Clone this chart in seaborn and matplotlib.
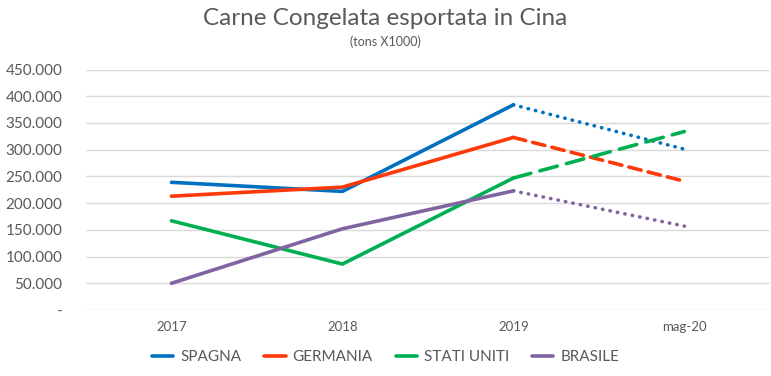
import pandas as pd
import seaborn as sns
import matplotlib.pyplot as plt
from matplotlib.ticker import FuncFormatter
from matplotlib.lines import Line2D

# Data (tons x1000)
periods = ["2017", "2018", "2019", "mag-20"]
countries = ["SPAGNA", "GERMANIA", "STATI UNITI", "BRASILE"]
spagna = [239000, 222000, 384000, 301000]
germania = [213000, 230000, 323000, 241000]
stati_uniti = [167000, 86000, 247000, 334000]
brasile = [50000, 152000, 223000, 157000]

colors = ["#0070C0", "#FF3A0A", "#00B050", "#8064A2"]
# style of the last (estimated) segment
last_styles = [(0, (0.1, 2.0)), (0, (3.5, 2.0)), (0, (5.0, 2.6)), (0, (0.1, 2.0))]

series = {"SPAGNA": spagna, "GERMANIA": germania,
          "STATI UNITI": stati_uniti, "BRASILE": brasile}

rows = []
for c in countries:
    for p, v in zip(periods, series[c]):
        rows.append({"Periodo": p, "Paese": c, "Valore": v})
df = pd.DataFrame(rows)

sns.set_theme(style="white")
plt.rcParams["font.family"] = ["Lato", "DejaVu Sans"]
grey = "#595959"

fig = plt.figure(figsize=(7.71, 3.76), dpi=100)
ax = fig.add_axes([0.1115, 0.1755, 0.887, 0.6395])

# solid part 2017-2019
solid = df[df["Periodo"] != "mag-20"]
sns.lineplot(data=solid, x="Periodo", y="Valore", hue="Paese", hue_order=countries,
             palette=colors, linewidth=2.6, ax=ax, legend=False, sort=False)

# last segment 2019 -> mag-20 with different dash styles
last = df[df["Periodo"].isin(["2019", "mag-20"])]
for c, col, ls in zip(countries, colors, last_styles):
    sub = last[last["Paese"] == c]
    sns.lineplot(data=sub, x="Periodo", y="Valore", color=col, linewidth=2.6,
                 ax=ax, legend=False, sort=False)
    ln = ax.lines[-1]
    ln.set_linestyle(ls)
    ln.set_dash_capstyle("round")

ax.set_xlim(-0.5, 3.5)
ax.set_ylim(0, 450000)
ax.set_yticks(range(0, 450001, 50000))


def fmt(v, pos):
    if v == 0:
        return "-"
    return f"{int(v):,}".replace(",", ".")


ax.yaxis.set_major_formatter(FuncFormatter(fmt))
ax.grid(axis="y", color="#D9D9D9", linewidth=1)
ax.grid(axis="x", visible=False)
ax.set_axisbelow(True)
for s in ax.spines.values():
    s.set_visible(False)
ax.tick_params(axis="y", labelsize=11, colors=grey, pad=17, length=0)
ax.tick_params(axis="x", labelsize=9.5, colors=grey, pad=8, length=0)
ax.set_xlabel("")
ax.set_ylabel("")

fig.text(0.5, 0.952, "Carne Congelata esportata in Cina", ha="center", va="center",
         fontsize=17.5, color=grey)
fig.text(0.5, 0.888, "(tons X1000)", ha="center", va="center", fontsize=9, color=grey)

handles = [Line2D([0], [0], color=col, linewidth=2.6) for col in colors]
fig.legend(handles, countries, loc="center", bbox_to_anchor=(0.5, 0.05), ncol=4,
           frameon=False, fontsize=11, labelcolor=grey, handlelength=1.4,
           handletextpad=0.45, columnspacing=1.5)

fig.savefig("out.png", dpi=100)
